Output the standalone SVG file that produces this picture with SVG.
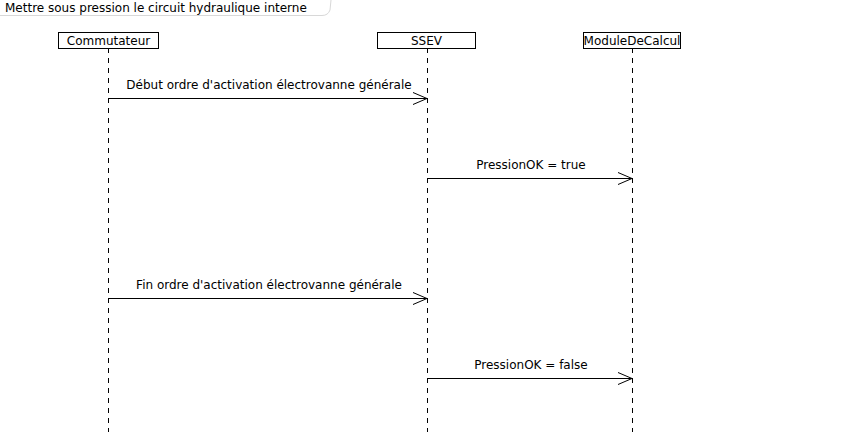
<svg xmlns="http://www.w3.org/2000/svg" width="853" height="432" viewBox="0 0 853 432">
<style>
text{font-family:"DejaVu Sans",sans-serif;font-size:12px;fill:#000}
.box{fill:#fff;stroke:#000;stroke-width:1}
.life{stroke:#000;stroke-width:1;stroke-dasharray:5,5;fill:none}
.msg{stroke:#000;stroke-width:1;fill:none}
.head{stroke:#000;stroke-width:1;fill:none}
</style>
<rect width="853" height="432" fill="#fff"/>
<g id="frame">
<path d="M0,15.5 H322 Q328,15.5 330,10 L331,0" fill="none" stroke="#d8d8d8" stroke-width="1"/>
<text x="5" y="12">Mettre sous pression le circuit hydraulique interne</text>
</g>
<g id="connectors">
<line class="life" x1="108.5" y1="48" x2="108.5" y2="432"/>
<line class="life" x1="427.5" y1="48" x2="427.5" y2="432"/>
<line class="life" x1="632.5" y1="48" x2="632.5" y2="432"/>
<line class="msg" x1="108.5" y1="98.5" x2="427" y2="98.5"/>
<polyline class="head" points="413,92.5 427,98.5 413,104.5"/>
<text x="269" y="89" text-anchor="middle">Début ordre d'activation électrovanne générale</text>
<line class="msg" x1="427.5" y1="178.5" x2="632" y2="178.5"/>
<polyline class="head" points="618,172.5 632,178.5 618,184.5"/>
<text x="531" y="169" text-anchor="middle">PressionOK = true</text>
<line class="msg" x1="108.5" y1="298.5" x2="427" y2="298.5"/>
<polyline class="head" points="413,292.5 427,298.5 413,304.5"/>
<text x="269" y="289" text-anchor="middle">Fin ordre d'activation électrovanne générale</text>
<line class="msg" x1="427.5" y1="378.5" x2="632" y2="378.5"/>
<polyline class="head" points="618,372.5 632,378.5 618,384.5"/>
<text x="531" y="369" text-anchor="middle">PressionOK = false</text>
</g>
<g id="Commutateur">
<rect class="box" x="58.5" y="32.5" width="100" height="16"/>
<text x="108.5" y="45" text-anchor="middle">Commutateur</text>
</g>
<g id="SSEV">
<rect class="box" x="377.5" y="32.5" width="98" height="16"/>
<text x="426.5" y="45" text-anchor="middle">SSEV</text>
</g>
<g id="ModuleDeCalcul">
<rect class="box" x="583.5" y="32.5" width="97" height="16"/>
<text x="632" y="45" text-anchor="middle">ModuleDeCalcul</text>
</g>
</svg>
